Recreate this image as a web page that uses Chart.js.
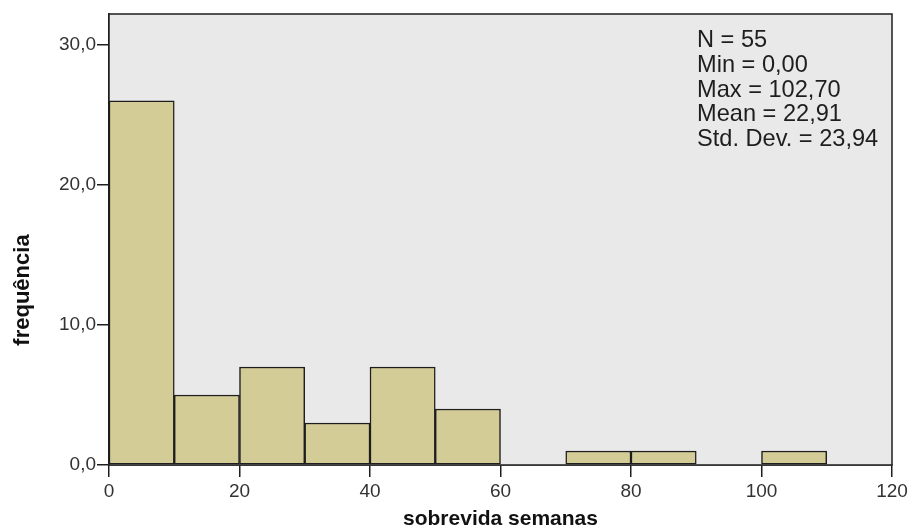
<!DOCTYPE html>
<html>
<head>
<meta charset="utf-8">
<script src="https://cdn.jsdelivr.net/npm/chart.js@4/dist/chart.umd.min.js"></script>
<style>
  html, body { margin: 0; padding: 0; background: #ffffff; }
  #wrap { width: 911px; height: 530px; position: relative; }
  canvas { display: block; }
</style>
</head>
<body>
<div id="wrap"><canvas id="hist" width="911" height="530"></canvas></div>
<script>
// Histogram of survival time in weeks (bins of width 10)
const binStarts = [0, 10, 20, 30, 40, 50, 60, 70, 80, 90, 100];
const binWidth = 10;
const counts = [26, 5, 7, 3, 7, 4, 0, 1, 1, 0, 1];
const xTicks = [0, 20, 40, 60, 80, 100, 120];
const yTicks = [0, 10, 20, 30];
const statsLines = ['N = 55', 'Min = 0,00', 'Max = 102,70', 'Mean = 22,91', 'Std. Dev. = 23,94'];
const xTitle = 'sobrevida semanas';
const yTitle = 'frequência';

const points = binStarts.map((s, i) => ({ x: s + binWidth / 2, y: counts[i] > 0 ? counts[i] : null }));
const FONT = '"Liberation Sans", Arial, sans-serif';

const frame = {
  id: 'frame',
  beforeDatasetsDraw(chart) {
    const { ctx, chartArea: a } = chart;
    ctx.save();
    ctx.fillStyle = '#e9e9e9';
    ctx.fillRect(a.left, a.top, a.right - a.left, a.bottom - a.top);
    ctx.restore();
  },
  afterDatasetsDraw(chart) {
    const { ctx, chartArea: a } = chart;
    ctx.save();
    ctx.strokeStyle = '#1e1e1e';
    ctx.lineWidth = 1.5;
    ctx.strokeRect(a.left, a.top, a.right - a.left, a.bottom - a.top);
    // statistics box
    ctx.fillStyle = '#1e1e1e';
    ctx.font = '23.6px ' + FONT;
    ctx.textBaseline = 'top';
    ctx.textAlign = 'left';
    statsLines.forEach((t, i) => ctx.fillText(t, 697, 29 + i * 24.7));
    // axis titles
    ctx.font = 'bold 21px ' + FONT;
    ctx.textAlign = 'center';
    ctx.textBaseline = 'alphabetic';
    ctx.fillStyle = '#111';
    ctx.fillText(xTitle, (a.left + a.right) / 2, 525);
    ctx.translate(29, 290);
    ctx.rotate(-Math.PI / 2);
    ctx.font = 'bold 22px ' + FONT;
    ctx.fillText(yTitle, 0, 0);
    ctx.restore();
  }
};

new Chart(document.getElementById('hist'), {
  type: 'bar',
  data: {
    datasets: [{
      data: points,
      backgroundColor: '#d3cc97',
      borderColor: '#1e1e1e',
      borderWidth: 1.5,
      borderSkipped: false,
      barPercentage: 1,
      categoryPercentage: 1
    }]
  },
  options: {
    responsive: false,
    maintainAspectRatio: false,
    animation: false,
    devicePixelRatio: 1,
    layout: { padding: { left: 0, right: 19, top: 14, bottom: 0 } },
    plugins: { legend: { display: false }, tooltip: { enabled: false } },
    scales: {
      x: {
        type: 'linear',
        min: 0, max: 120,
        offset: false,
        afterFit(s) { s.height = 65; },
        afterBuildTicks(s) { s.ticks = xTicks.map(v => ({ value: v })); },
        grid: { offset: false, drawOnChartArea: false, drawTicks: true, tickLength: 12, color: '#1e1e1e', lineWidth: 1.5 },
        border: { display: true, color: '#1e1e1e', width: 1.5 },
        ticks: {
          color: '#333', padding: 3, maxRotation: 0, minRotation: 0, autoSkip: false,
          font: { size: 19, family: FONT },
          callback: v => String(v)
        }
      },
      y: {
        min: 0, max: 32.2,
        afterFit(s) { s.width = 109; },
        afterBuildTicks(s) { s.ticks = yTicks.map(v => ({ value: v })); },
        grid: { drawOnChartArea: false, drawTicks: true, tickLength: 12, color: '#1e1e1e', lineWidth: 1.5 },
        border: { display: true, color: '#1e1e1e', width: 1.5 },
        ticks: {
          color: '#333', padding: 1, autoSkip: false,
          font: { size: 19, family: FONT },
          callback: v => v.toFixed(1).replace('.', ',')
        }
      }
    }
  },
  plugins: [frame]
});
</script>
</body>
</html>
